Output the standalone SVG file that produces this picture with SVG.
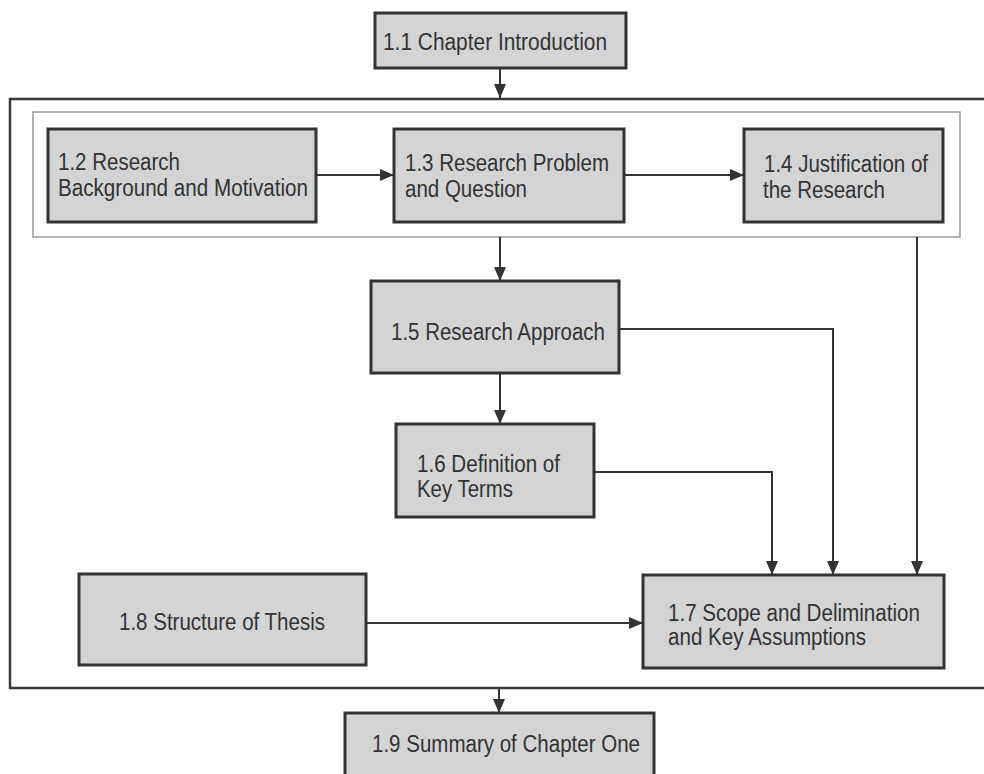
<svg xmlns="http://www.w3.org/2000/svg" width="984" height="774" viewBox="0 0 984 774">
  <style>
    .box { fill: #d3d4d6; stroke: #333333; stroke-width: 3; }
    .frame { fill: none; stroke: #3a3a3a; stroke-width: 2.5; }
    .inner { fill: #ffffff; stroke: #9a9a9a; stroke-width: 1.5; }
    .lbl { font-family: "Liberation Sans", Arial, sans-serif; font-size: 23.5px; fill: #333333; }
    .conn { fill: none; stroke: #333333; stroke-width: 2; }
  </style>
  <defs>
    <marker id="arrow" markerUnits="userSpaceOnUse" markerWidth="14" markerHeight="12" refX="14" refY="6" orient="auto">
      <path d="M0,0 L14,6 L0,12 z" fill="#333333"/>
    </marker>
  </defs>

  <rect width="984" height="774" fill="#ffffff"/>

  <!-- outer frame around the chapter body -->
  <rect class="frame" x="10" y="99" width="990" height="589"/>
  <!-- inner frame around the first row -->
  <rect class="inner" x="33" y="112" width="927" height="125"/>

  <g id="connectors">
    <line class="conn" x1="500" y1="68" x2="500" y2="98" marker-end="url(#arrow)"/>
    <line class="conn" x1="316" y1="175" x2="394" y2="175" marker-end="url(#arrow)"/>
    <line class="conn" x1="624" y1="175" x2="744" y2="175" marker-end="url(#arrow)"/>
    <line class="conn" x1="500" y1="237" x2="500" y2="281" marker-end="url(#arrow)"/>
    <line class="conn" x1="500" y1="373" x2="500" y2="424" marker-end="url(#arrow)"/>
    <polyline class="conn" points="619,329 833,329 833,575" marker-end="url(#arrow)"/>
    <polyline class="conn" points="594,472 772,472 772,575" marker-end="url(#arrow)"/>
    <line class="conn" x1="917" y1="237" x2="917" y2="575" marker-end="url(#arrow)"/>
    <line class="conn" x1="366" y1="623" x2="643" y2="623" marker-end="url(#arrow)"/>
    <line class="conn" x1="499" y1="689" x2="499" y2="713" marker-end="url(#arrow)"/>
  </g>

  <g id="n1_1">
    <rect class="box" x="375" y="13" width="251" height="55"/>
    <text class="lbl" x="383" y="50" textLength="224" lengthAdjust="spacingAndGlyphs">1.1 Chapter Introduction</text>
  </g>

  <g id="n1_2">
    <rect class="box" x="48" y="129" width="268" height="93"/>
    <text class="lbl" x="58" y="170" textLength="122" lengthAdjust="spacingAndGlyphs">1.2 Research</text>
    <text class="lbl" x="58" y="196" textLength="250" lengthAdjust="spacingAndGlyphs">Background and Motivation</text>
  </g>

  <g id="n1_3">
    <rect class="box" x="394" y="129" width="230" height="93"/>
    <text class="lbl" x="405" y="171" textLength="204" lengthAdjust="spacingAndGlyphs">1.3 Research Problem</text>
    <text class="lbl" x="405" y="197" textLength="122" lengthAdjust="spacingAndGlyphs">and Question</text>
  </g>

  <g id="n1_4">
    <rect class="box" x="744" y="129" width="199" height="93"/>
    <text class="lbl" x="764" y="172" textLength="164" lengthAdjust="spacingAndGlyphs">1.4 Justification of</text>
    <text class="lbl" x="763" y="198" textLength="122" lengthAdjust="spacingAndGlyphs">the Research</text>
  </g>

  <g id="n1_5">
    <rect class="box" x="371" y="281" width="248" height="92"/>
    <text class="lbl" x="391" y="340" textLength="214" lengthAdjust="spacingAndGlyphs">1.5 Research Approach</text>
  </g>

  <g id="n1_6">
    <rect class="box" x="396" y="424" width="198" height="93"/>
    <text class="lbl" x="417" y="472" textLength="143" lengthAdjust="spacingAndGlyphs">1.6 Definition of</text>
    <text class="lbl" x="417" y="497" textLength="96" lengthAdjust="spacingAndGlyphs">Key Terms</text>
  </g>

  <g id="n1_7">
    <rect class="box" x="643" y="575" width="301" height="93"/>
    <text class="lbl" x="668" y="621" textLength="252" lengthAdjust="spacingAndGlyphs">1.7 Scope and Delimination</text>
    <text class="lbl" x="668" y="645" textLength="198" lengthAdjust="spacingAndGlyphs">and Key Assumptions</text>
  </g>

  <g id="n1_8">
    <rect class="box" x="79" y="574" width="287" height="91"/>
    <text class="lbl" x="119" y="630" textLength="206" lengthAdjust="spacingAndGlyphs">1.8 Structure of Thesis</text>
  </g>

  <g id="n1_9">
    <rect class="box" x="345" y="713" width="309" height="75"/>
    <text class="lbl" x="372" y="752" textLength="268" lengthAdjust="spacingAndGlyphs">1.9 Summary of Chapter One</text>
  </g>
</svg>
